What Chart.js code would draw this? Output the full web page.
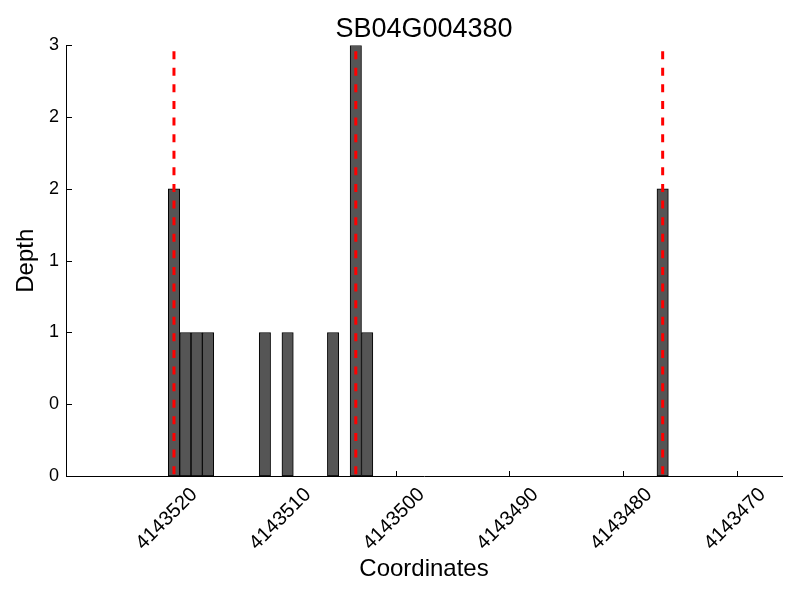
<!DOCTYPE html>
<html>
<head>
<meta charset="utf-8">
<script src="https://cdn.jsdelivr.net/npm/chart.js@4/dist/chart.umd.min.js"></script>
<style>
  html, body { margin: 0; padding: 0; background: #ffffff; }
  #wrap { width: 800px; height: 600px; }
</style>
</head>
<body>
<div id="wrap"><canvas id="c" width="800" height="600"></canvas></div>
<script>
const chartTitle = 'SB04G004380';
const xAxisTitle = 'Coordinates';
const yAxisTitle = 'Depth';

// Bar centres (genomic coordinate) and depth values
const barPositions = [4143519.5, 4143518.5, 4143517.5, 4143516.5, 4143511.5, 4143509.5, 4143505.5, 4143503.5, 4143502.5, 4143476.5];
const depths = [2, 1, 1, 1, 1, 1, 1, 3, 1, 2];

// Red dashed marker lines
const markerPositions = [4143519.5, 4143503.5, 4143476.5];
const markerTop = 2.96;

// Axis ticks
const xTickValues = [4143470, 4143480, 4143490, 4143500, 4143510, 4143520];
const xMin = 4143466;
const xMax = 4143529;
const yTickValues = [0, 0.5, 1, 1.5, 2, 2.5, 3];
const yTickLabels = ['0', '0', '1', '1', '2', '2', '3'];

Chart.defaults.font.family = "'Liberation Sans', Arial, Helvetica, sans-serif";
Chart.defaults.color = '#000000';

const datasets = [{
  type: 'bar',
  data: barPositions.map((x, i) => ({ x: x, y: depths[i] })),
  backgroundColor: '#555555',
  borderColor: '#000000',
  borderWidth: 1,
  borderSkipped: false,
  barPercentage: 1,
  categoryPercentage: 1,
  order: 2
}];
markerPositions.forEach(m => {
  datasets.push({
    type: 'line',
    data: [{ x: m, y: markerTop }, { x: m, y: 0 }],
    borderColor: '#ff0000',
    borderWidth: 3,
    borderDash: [8, 8.6],
    pointRadius: 0,
    fill: false,
    tension: 0,
    order: 1
  });
});

const inwardTicks = {
  id: 'inwardTicks',
  afterLayout(chart) {
    // centre the title over the plotting area, as in the reference
    if (chart.titleBlock) {
      chart.titleBlock.left = chart.chartArea.left;
      chart.titleBlock.right = chart.chartArea.right;
    }
  },
  beforeDatasetsDraw(chart) {
    const { ctx, chartArea, scales } = chart;
    ctx.save();
    ctx.strokeStyle = '#000000';
    ctx.lineWidth = 1;
    scales.x.ticks.forEach(t => {
      const px = Math.round(scales.x.getPixelForValue(t.value)) + 0.5;
      ctx.beginPath();
      ctx.moveTo(px, chartArea.bottom);
      ctx.lineTo(px, chartArea.bottom - 5);
      ctx.stroke();
    });
    scales.y.ticks.forEach(t => {
      const py = Math.round(scales.y.getPixelForValue(t.value)) + 0.5;
      ctx.beginPath();
      ctx.moveTo(chartArea.left, py);
      ctx.lineTo(chartArea.left + 6, py);
      ctx.stroke();
    });
    ctx.restore();
  }
};

new Chart(document.getElementById('c'), {
  type: 'bar',
  data: { datasets: datasets },
  plugins: [inwardTicks],
  options: {
    responsive: false,
    animation: false,
    events: [],
    layout: { padding: { left: 0, right: 18, top: 0, bottom: 0 } },
    plugins: {
      legend: { display: false },
      tooltip: { enabled: false },
      title: {
        display: true,
        text: chartTitle,
        font: { size: 27, weight: 'normal' },
        color: '#000000',
        padding: { top: 13, bottom: 0 }
      }
    },
    scales: {
      x: {
        type: 'linear',
        reverse: true,
        offset: false,
        min: xMin,
        max: xMax,
        afterBuildTicks: s => { s.ticks = xTickValues.map(v => ({ value: v })); },
        afterFit: s => { s.height = 124; },
        grid: { display: false, drawTicks: false },
        border: { display: true, color: '#000000', width: 1 },
        ticks: {
          minRotation: 45,
          maxRotation: 45,
          padding: 7,
          labelOffset: 26,
          font: { size: 20 },
          color: '#000000',
          callback: v => String(v)
        },
        title: {
          display: true,
          text: xAxisTitle,
          font: { size: 24 },
          color: '#000000',
          padding: { top: 0, bottom: 16 }
        }
      },
      y: {
        type: 'linear',
        min: 0,
        max: 3,
        afterBuildTicks: s => { s.ticks = yTickValues.map(v => ({ value: v })); },
        afterFit: s => { s.width = 66; },
        grid: { display: false, drawTicks: false },
        border: { display: true, color: '#000000', width: 1 },
        ticks: {
          padding: 7,
          font: { size: 18 },
          color: '#000000',
          callback: (v, i) => yTickLabels[i]
        },
        title: {
          display: true,
          text: yAxisTitle,
          font: { size: 24 },
          color: '#000000',
          padding: { top: 12, bottom: 0 }
        }
      }
    }
  }
});
</script>
</body>
</html>
